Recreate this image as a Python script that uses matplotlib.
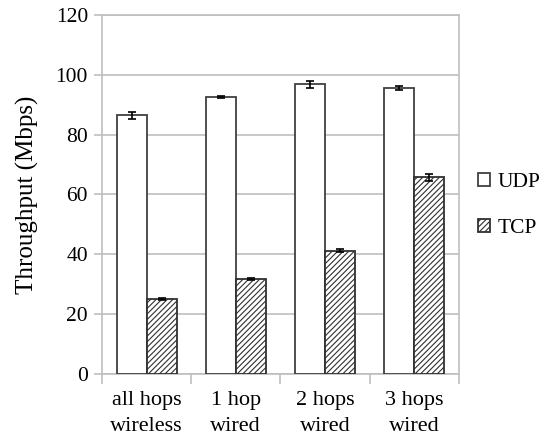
import matplotlib.pyplot as plt
import numpy as np

plt.rcParams['font.family'] = ['Liberation Serif', 'DejaVu Serif']
plt.rcParams['hatch.linewidth'] = 0.8

categories = ["all hops\nwireless", "1 hop\nwired", "2 hops\nwired", "3 hops\nwired"]
udp = [86.5, 92.5, 96.8, 95.6]
udp_err = [1.2, 0.3, 1.2, 0.6]
tcp = [25.0, 31.8, 41.2, 65.7]
tcp_err = [0.3, 0.3, 0.5, 1.2]

fig = plt.figure(figsize=(5.45, 4.37), dpi=100)
ax = fig.add_axes([0.187, 0.144, 0.655, 0.822])

x = np.arange(len(categories))
w = 0.336
err_kw = dict(ecolor='black', capsize=3, elinewidth=1.2, capthick=1.2)
ax.bar(x - w / 2, udp, w, yerr=udp_err, color='white', edgecolor='#404040',
       linewidth=1.3, label='UDP', error_kw=err_kw, zorder=3)
ax.bar(x + w / 2, tcp, w, yerr=tcp_err, color='white', edgecolor='#303030',
       linewidth=1.3, hatch='//////', label='TCP', error_kw=err_kw, zorder=3)

ax.set_xlim(-0.5, len(categories) - 0.5)
ax.set_ylim(0, 120)
ax.set_yticks(range(0, 121, 20))
ax.yaxis.grid(True, color='#BFBFBF', linewidth=1.2, zorder=0)
ax.set_axisbelow(True)

for s in ax.spines.values():
    s.set_color('#BFBFBF')
    s.set_linewidth(1.2)

ax.set_xticks(np.arange(-0.5, len(categories), 1.0))
ax.set_xticklabels([])
ax.set_xticks(x, minor=True)
ax.set_xticklabels(categories, minor=True, fontsize=16, linespacing=1.5)
ax.tick_params(axis='x', which='major', length=7, color='#BFBFBF', width=1.2)
ax.tick_params(axis='x', which='minor', length=0, pad=12)
ax.tick_params(axis='y', length=6, color='#BFBFBF', width=1.2, labelsize=15.5, pad=4)

ax.set_ylabel("Throughput (Mbps)", fontsize=18, labelpad=12)

ax.legend(loc='center left', bbox_to_anchor=(1.0, 0.47), frameon=False,
          fontsize=15.5, handlelength=0.55, handleheight=0.55,
          handletextpad=0.35, labelspacing=1.25, borderaxespad=0.5)

fig.savefig("out.png", dpi=100)
